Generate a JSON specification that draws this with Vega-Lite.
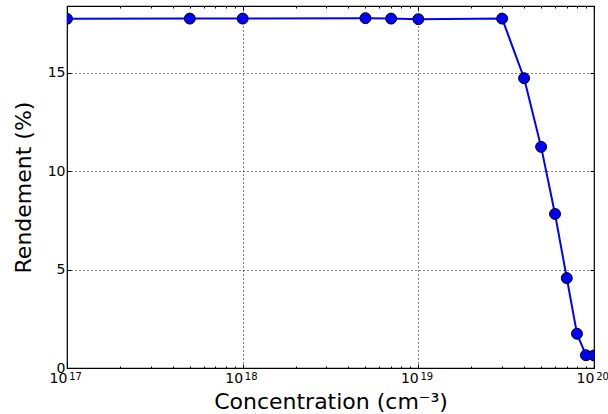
{
  "$schema": "https://vega.github.io/schema/vega-lite/v6.json",
  "width": 527,
  "height": 362,
  "autosize": {"type": "none"},
  "padding": {"left": 67, "top": 6, "right": 14, "bottom": 46},
  "background": "white",
  "config": {
    "font": "DejaVu Sans",
    "view": {"stroke": "black", "strokeWidth": 1.2},
    "axis": {
      "domain": false,
      "tickColor": "black",
      "labelColor": "black",
      "titleColor": "black",
      "labelFont": "DejaVu Sans",
      "titleFont": "DejaVu Sans",
      "labelFontSize": 13,
      "titleFontSize": 22,
      "titleFontWeight": "normal",
      "gridColor": "black",
      "gridDash": [1, 3],
      "gridOpacity": 1,
      "gridWidth": 1
    }
  },
  "data": {
    "values": [
      {"c": 1e17, "r": 17.75},
      {"c": 5e17, "r": 17.76},
      {"c": 1e18, "r": 17.76},
      {"c": 5e18, "r": 17.78},
      {"c": 7e18, "r": 17.76},
      {"c": 1e19, "r": 17.73},
      {"c": 3e19, "r": 17.76},
      {"c": 4e19, "r": 14.73},
      {"c": 5e19, "r": 11.24},
      {"c": 6e19, "r": 7.83},
      {"c": 7e19, "r": 4.57},
      {"c": 8e19, "r": 1.74},
      {"c": 9e19, "r": 0.65},
      {"c": 1e20, "r": 0.64}
    ]
  },
  "resolve": {"axis": {"x": "independent", "y": "independent"}},
  "layer": [
    {
      "mark": {"type": "line", "color": "#0000ff", "strokeWidth": 2, "clip": true},
      "encoding": {
        "x": {
          "field": "c", "type": "quantitative",
          "scale": {"type": "log", "domain": [1e17, 1e20], "nice": false},
          "axis": {
            "orient": "bottom",
            "values": [1e17, 1e18, 1e19, 1e20],
            "grid": true,
            "tickSize": -4,
            "labelPadding": 7,
            "labelFontSize": 14,
            "labelBaseline": "top",
            "labelOffset": -9,
            "labelFlush": false,
            "labelOverlap": false,
            "labelExpr": "'10'",
            "title": "Concentration (cm⁻³)",
            "titlePadding": 6
          }
        },
        "y": {
          "field": "r", "type": "quantitative",
          "scale": {"domain": [0, 18.4], "nice": false, "zero": true},
          "axis": {
            "orient": "left",
            "values": [0, 5, 10, 15],
            "grid": true,
            "tickSize": -4,
            "labelPadding": 6,
            "labelFontSize": 14,
            "title": "Rendement (%)",
            "titlePadding": 12
          }
        }
      }
    },
    {
      "mark": {"type": "point", "filled": true, "fill": "#0000ff", "stroke": "black", "strokeWidth": 1, "size": 120, "opacity": 1, "clip": true},
      "encoding": {
        "x": {
          "field": "c", "type": "quantitative",
          "scale": {"type": "log", "domain": [1e17, 1e20], "nice": false},
          "axis": {"orient": "top", "values": [1e17, 1e18, 1e19, 1e20], "labels": false, "grid": false, "tickSize": -4, "title": null}
        },
        "y": {
          "field": "r", "type": "quantitative",
          "scale": {"domain": [0, 18.4], "nice": false},
          "axis": {"orient": "right", "values": [0, 5, 10, 15], "labels": false, "grid": false, "tickSize": -4, "title": null}
        }
      }
    },
    {
      "mark": {"type": "point", "opacity": 0},
      "encoding": {
        "x": {
          "field": "c", "type": "quantitative",
          "scale": {"type": "log", "domain": [1e17, 1e20], "nice": false},
          "axis": {"orient": "bottom", "values": [2e17, 3e17, 4e17, 5e17, 6e17, 7e17, 8e17, 9e17, 2e18, 3e18, 4e18, 5e18, 6e18, 7e18, 8e18, 9e18, 2e19, 3e19, 4e19, 5e19, 6e19, 7e19, 8e19, 9e19], "labels": false, "grid": false, "tickSize": -2, "title": null}
        }
      }
    },
    {
      "mark": {"type": "point", "opacity": 0},
      "encoding": {
        "x": {
          "field": "c", "type": "quantitative",
          "scale": {"type": "log", "domain": [1e17, 1e20], "nice": false},
          "axis": {"orient": "top", "values": [2e17, 3e17, 4e17, 5e17, 6e17, 7e17, 8e17, 9e17, 2e18, 3e18, 4e18, 5e18, 6e18, 7e18, 8e18, 9e18, 2e19, 3e19, 4e19, 5e19, 6e19, 7e19, 8e19, 9e19], "labels": false, "grid": false, "tickSize": -2, "title": null}
        }
      }
    },
    {
      "mark": {"type": "point", "opacity": 0},
      "encoding": {
        "x": {
          "field": "c", "type": "quantitative",
          "scale": {"type": "log", "domain": [1e17, 1e20], "nice": false},
          "axis": {
            "orient": "bottom",
            "values": [1e17, 1e18, 1e19, 1e20],
            "ticks": false,
            "grid": false,
            "labelFontSize": 10,
            "labelBaseline": "top",
            "labelPadding": 3,
            "labelOffset": 8,
            "labelFlush": false,
            "labelOverlap": false,
            "labelExpr": "datum.value < 5e17 ? '17' : datum.value < 5e18 ? '18' : datum.value < 5e19 ? '19' : '20'",
            "title": null
          }
        }
      }
    }
  ]
}
